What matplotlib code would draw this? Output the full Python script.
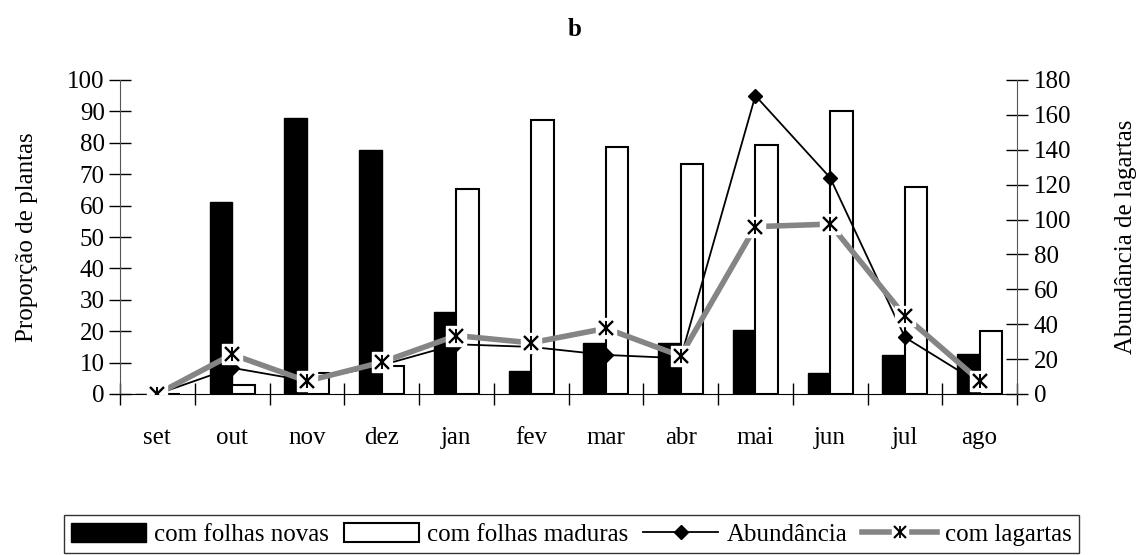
import matplotlib
matplotlib.use("Agg")
import matplotlib.pyplot as plt
from matplotlib.lines import Line2D
from matplotlib.patches import Patch
from matplotlib.legend_handler import HandlerTuple
import numpy as np

plt.rcParams['font.family'] = ['Liberation Serif', 'DejaVu Serif']

meses = ['set', 'out', 'nov', 'dez', 'jan', 'fev', 'mar', 'abr', 'mai', 'jun', 'jul', 'ago']
folhas_novas = [0, 61, 88, 77.6, 26.2, 7.4, 16.1, 16.1, 20.3, 6.8, 12.3, 12.8]
folhas_maduras = [0, 2.9, 6.6, 9, 65.4, 87.3, 78.6, 73.2, 79.2, 90.2, 65.9, 20.1]
abundancia = [0, 15, 7.5, 16.5, 28.5, 27, 22.4, 20.5, 171, 124, 32.5, 6]
com_lagartas = [0, 12.6, 4.1, 10.1, 18.6, 16.3, 20.9, 12.1, 53.3, 54.1, 24.8, 4.2]

fs = 18
fs_leg = 18
fig = plt.figure(figsize=(11.47, 5.55), dpi=100)
ax = fig.add_axes([120/1147, 1-394/555, (1017-120)/1147, (394-80)/555])
ax2 = ax.twinx()

x = np.arange(len(meses))
ax.bar(x - 0.15, folhas_novas, width=0.3, color='black', edgecolor='black', linewidth=1, zorder=2)
ax.bar(x + 0.15, folhas_maduras, width=0.3, color='white', edgecolor='black', linewidth=1.5, zorder=2)

ax.set_xlim(-0.5, len(meses) - 0.5)
ax.set_ylim(0, 100)
ax2.set_ylim(0, 180)

# Abundance line (right axis)
ax2.plot(x, abundancia, color='black', lw=1.3, marker='D', ms=7, mfc='black', mec='black', zorder=3)
# com lagartas line (left axis units, drawn on top)
ax2.plot(x, com_lagartas, color='#858585', lw=4, transform=ax.transData, zorder=4, solid_capstyle='butt')
ax2.plot(x, com_lagartas, ls='none', marker='s', ms=15, mfc='white', mec='white', transform=ax.transData, zorder=5)
ax2.plot(x, com_lagartas, ls='none', marker='x', ms=9.5, mec='black', mew=1.7, transform=ax.transData, zorder=6)
ax2.plot(x, com_lagartas, ls='none', marker='|', ms=10.5, mec='black', mew=1.4, transform=ax.transData, zorder=6)

# ticks
ax.set_yticks(np.arange(0, 101, 10))
ax2.set_yticks(np.arange(0, 181, 20))
ax.tick_params(axis='y', direction='inout', length=16, width=1, labelsize=fs, pad=3)
ax2.tick_params(axis='y', direction='inout', length=16, width=1, labelsize=fs, pad=4)
ax.set_xticks(x)
ax.set_xticklabels(meses)
ax.set_xticks(np.arange(-0.5, len(meses), 1), minor=True)
ax.tick_params(axis='x', which='major', length=0, labelsize=fs, pad=24)
ax.tick_params(axis='x', which='minor', direction='inout', length=16, width=1)

for a in (ax, ax2):
    a.spines['top'].set_visible(False)
ax.spines['right'].set_visible(False)
ax2.spines['bottom'].set_visible(False)
ax2.spines['left'].set_visible(False)
ax.spines['left'].set_color('#555555')
ax2.spines['right'].set_color('#555555')
ax.spines['bottom'].set_color('black')

ax.set_ylabel('Proporção de plantas', fontsize=fs)
ax2.set_ylabel('Abundância de lagartas', fontsize=fs)
ax.yaxis.set_label_coords(-0.0914, 0.5)
ax2.yaxis.set_label_coords(1.109, 0.5)

fig.text(575/1147, 1-30/555, 'b', ha='center', va='center', fontsize=fs, fontweight='bold')

# legend
h1 = Patch(facecolor='black', edgecolor='black')
h2 = Patch(facecolor='white', edgecolor='black', linewidth=1.5)
h3 = Line2D([], [], color='black', lw=1.3, marker='D', ms=7)
h4a = Line2D([], [], color='#858585', lw=4)
h4b = Line2D([], [], ls='none', marker='s', ms=12, mfc='white', mec='white')
h4c = Line2D([], [], ls='none', marker='x', ms=8, mec='black', mew=1.5)
h4d = Line2D([], [], ls='none', marker='|', ms=9, mec='black', mew=1.3)
leg = fig.legend([h1, h2, h3, (h4a, h4b, h4c, h4d)],
                 ['com folhas novas', 'com folhas maduras', 'Abundância', 'com lagartas'],
                 handler_map={tuple: HandlerTuple(ndivide=1)},
                 loc='upper center', bbox_to_anchor=(571.5/1147, 1-515/555), ncol=4,
                 fontsize=fs_leg, frameon=True, fancybox=False, edgecolor='black',
                 handlelength=3.0, handleheight=0.8, handletextpad=0.32, columnspacing=0.6,
                 borderpad=0.3, borderaxespad=0)
leg.get_frame().set_linewidth(1)

fig.savefig('out.png', dpi=100)
